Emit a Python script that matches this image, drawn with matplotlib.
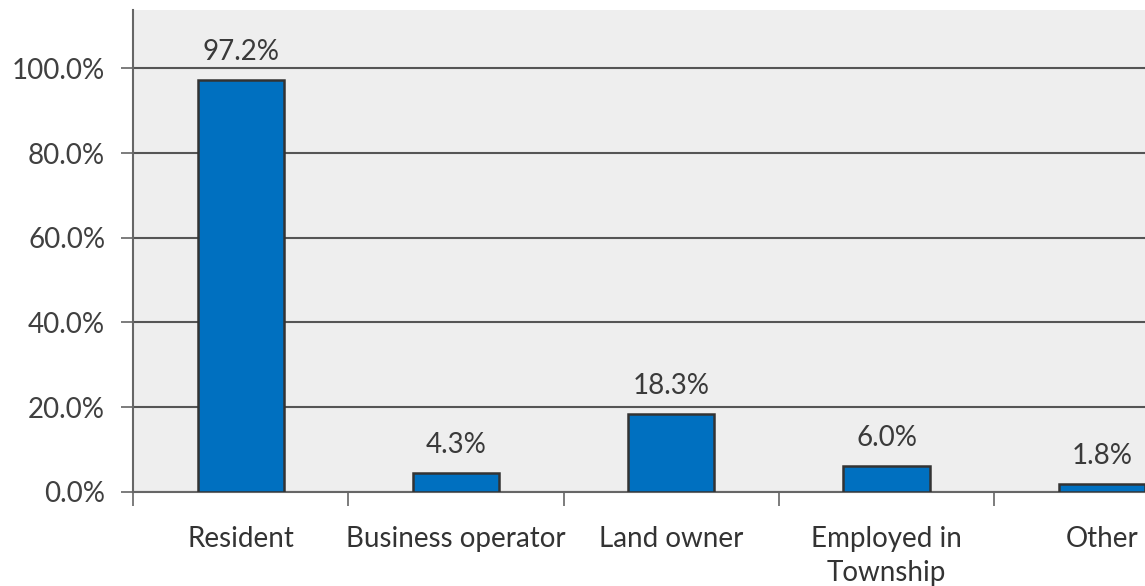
import matplotlib
matplotlib.use("Agg")
import matplotlib.pyplot as plt
from matplotlib.ticker import FuncFormatter, FixedLocator

categories = ["Resident", "Business operator", "Land owner", "Employed in\nTownship", "Other"]
values = [97.2, 4.3, 18.3, 6.0, 1.8]
yticks = [0, 20, 40, 60, 80, 100]

plt.rcParams['font.family'] = ['Lato', 'DejaVu Sans']

fig = plt.figure(figsize=(11.45, 5.86), dpi=100)
ax = fig.add_axes([133/1145, (586-491.7)/586, 1076.5/1145, (491.7-10)/586])
ax.set_facecolor('#EEEEEE')

x = list(range(len(categories)))
bars = ax.bar(x, values, width=0.4, color='#0070C0', edgecolor='#333333', linewidth=1.8, zorder=3)
for xi, v in zip(x, values):
    ax.annotate(f"{v:.1f}%", (xi, v), xytext=(0, 11), textcoords='offset points',
                ha='center', va='bottom', fontsize=20, color='#3a3a3a')

ax.set_xlim(-0.5, len(categories) - 0.5)
ax.set_ylim(0, 113.8)
ax.set_yticks(yticks)
ax.yaxis.set_major_formatter(FuncFormatter(lambda v, p: f"{v:.1f}%"))
ax.set_xticks(x)
ax.set_xticklabels(categories, linespacing=1.35)
ax.xaxis.set_minor_locator(FixedLocator([i - 0.5 for i in range(len(categories) + 1)]))
ax.tick_params(axis='x', which='major', length=0, pad=25, labelsize=20, labelcolor='#333333')
ax.tick_params(axis='x', which='minor', length=10, width=1.2, color='#666666', direction='out')
ax.tick_params(axis='y', length=9, width=1.2, color='#666666', pad=11, labelsize=20, labelcolor='#404040')
ax.grid(axis='y', color='#555555', linewidth=1.5, zorder=1)
ax.set_axisbelow(True)
for s in ['top', 'right']:
    ax.spines[s].set_visible(False)
for s in ['left', 'bottom']:
    ax.spines[s].set_color('#666666')
    ax.spines[s].set_linewidth(1.5)

fig.savefig('out.png', dpi=100)
